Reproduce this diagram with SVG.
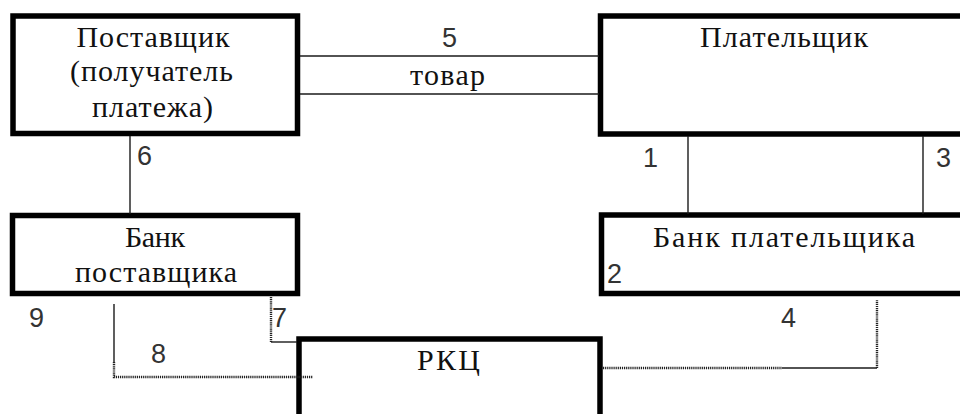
<svg xmlns="http://www.w3.org/2000/svg" width="960" height="414" viewBox="0 0 960 414">
<style>
.box{fill:#fff;stroke:#000;stroke-width:5.5}
.ln{fill:none;stroke:#1a1a1a;stroke-width:1.4}
.wv{fill:none;stroke:#222;stroke-width:2.4;stroke-dasharray:1.2 0.9}
.t{font-family:"Liberation Serif","DejaVu Serif",serif;font-size:30px;fill:#111;text-anchor:middle}
.n{font-family:"Liberation Sans","DejaVu Sans",sans-serif;font-size:27px;fill:#333}
</style>
<rect width="960" height="414" fill="#fff"/>
<g id="supplier">
<rect class="box" x="13" y="16" width="284.5" height="117.5"/>
<text class="t" x="153" y="47" textLength="153" lengthAdjust="spacing">Поставщик</text>
<text class="t" x="151.5" y="81" textLength="163" lengthAdjust="spacing">(получатель</text>
<text class="t" x="152.5" y="117" textLength="121" lengthAdjust="spacing">платежа)</text>
</g>
<g id="payer">
<rect class="box" x="600.5" y="16" width="400" height="118"/>
<text class="t" x="784" y="47" textLength="168" lengthAdjust="spacing">Плательщик</text>
</g>
<g id="supplier-bank">
<rect class="box" x="12.5" y="215.5" width="285" height="78"/>
<text class="t" x="155" y="247" textLength="60" lengthAdjust="spacing">Банк</text>
<text class="t" x="156" y="282" textLength="162" lengthAdjust="spacing">поставщика</text>
</g>
<g id="payer-bank">
<rect class="box" x="601.5" y="215" width="400" height="78.5"/>
<text class="t" x="784" y="247" textLength="262" lengthAdjust="spacing">Банк плательщика</text>
</g>
<g id="rkc">
<rect class="box" x="299" y="339" width="301" height="100"/>
<text class="t" x="448.5" y="370" textLength="63" lengthAdjust="spacing">РКЦ</text>
</g>
<g id="connectors">
<line class="ln" x1="300" y1="56" x2="599" y2="56"/>
<line class="ln" x1="300" y1="94" x2="599" y2="94"/>
<line class="ln" x1="130" y1="136" x2="130" y2="214"/>
<line class="ln" x1="688" y1="136" x2="688" y2="214"/>
<line class="ln" x1="923" y1="136" x2="923" y2="214"/>
<path class="ln" d="M114,304 V362"/>
<path class="wv" d="M114,362 V377 H313"/>
<path class="wv" d="M271,297 V342"/>
<path class="ln" d="M271,342 H297"/>
<path class="wv" d="M603,368 H782"/>
<path class="ln" d="M782,368 H877"/>
<path class="wv" d="M877,368 V300"/>
</g>
<g id="labels">
<text class="n" x="442" y="47">5</text>
<text class="t" x="447.5" y="85" textLength="75" lengthAdjust="spacing">товар</text>
<text class="n" x="643" y="167">1</text>
<text class="n" x="936" y="167">3</text>
<text class="n" x="137" y="165">6</text>
<text class="n" x="607" y="283">2</text>
<text class="n" x="29" y="327">9</text>
<text class="n" x="151" y="363">8</text>
<text class="n" x="272" y="327">7</text>
<text class="n" x="781" y="327">4</text>
</g>
</svg>
